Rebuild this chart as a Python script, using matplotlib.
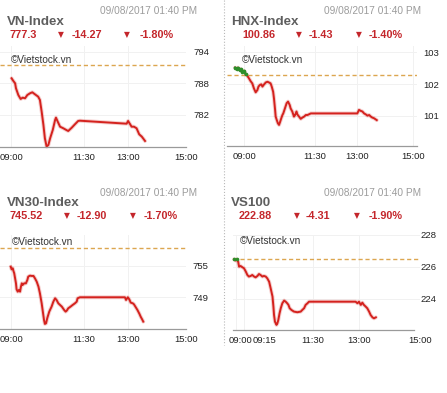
import matplotlib.pyplot as plt
import matplotlib.transforms as mtransforms
from matplotlib.lines import Line2D
import numpy as np

##########
# Data
##########
stamp = "09/08/2017 01:40 PM"

# VN-Index, time in hours
vn_time = [9.02, 9.08, 9.14, 9.17, 9.25, 9.33, 9.40, 9.48, 9.56, 9.65, 9.73, 9.82, 9.93, 9.99,
           10.05, 10.11, 10.16, 10.22, 10.28, 10.34, 10.43, 10.51, 10.54, 10.59, 10.68, 10.79,
           10.91, 10.96, 11.08, 11.19, 11.30, 11.36, 12.96, 13.01, 13.08, 13.13, 13.21, 13.30,
           13.39, 13.48, 13.59]
vn_value = [788.99, 788.48, 788.04, 787.09, 785.81, 785.05, 785.30, 785.18, 785.81, 786.13,
            786.32, 785.94, 785.49, 784.86, 782.63, 780.10, 777.56, 775.96, 776.29, 777.56,
            779.14, 781.05, 781.49, 780.86, 779.77, 779.47, 779.09, 778.95, 779.58, 780.23,
            780.86, 780.91, 780.34, 780.86, 780.23, 779.77, 779.77, 779.47, 778.32, 777.87,
            777.05]
vn_ref = 791.57
vn_head = ["777.3", "-14.27", "-1.80%"]
vn_yticks = [782, 788, 794]

# HNX-Index
hnx_time = [8.67, 8.73, 8.77, 8.83, 8.87, 8.93, 8.99, 9.05, 9.10, 9.16, 9.22, 9.28, 9.34, 9.40,
            9.46, 9.50, 9.55, 9.60, 9.64, 9.70, 9.76, 9.82, 9.87, 9.93, 9.97, 10.02, 10.05,
            10.09, 10.11, 10.15, 10.19, 10.23, 10.27, 10.31, 10.35, 10.38, 10.44, 10.50, 10.55,
            10.61, 10.64, 10.70, 10.76, 10.80, 10.85, 10.88, 10.94, 11.00, 11.06, 11.12, 11.18,
            11.24, 11.36, 13.01, 13.07, 13.13, 13.19, 13.25, 13.31, 13.37, 13.43, 13.49, 13.54,
            13.60, 13.70]
hnx_value = [102.51, 102.47, 102.51, 102.44, 102.47, 102.39, 102.41, 102.30, 102.26, 102.18,
             102.09, 102.02, 101.86, 101.74, 101.81, 101.92, 101.97, 101.99, 101.92, 101.99,
             102.05, 102.07, 102.05, 102.02, 101.92, 101.76, 101.55, 101.19, 100.98, 100.87,
             100.77, 100.72, 100.82, 100.93, 101.03, 101.08, 101.24, 101.40, 101.45, 101.34,
             101.24, 101.14, 100.98, 101.03, 101.14, 101.05, 100.98, 100.91, 100.95, 100.98,
             101.03, 101.03, 101.08, 101.08, 101.19, 101.16, 101.14, 101.08, 101.05, 101.01,
             101.03, 100.98, 100.95, 100.93, 100.87]
hnx_ref = 102.29
hnx_head = ["100.86", "-1.43", "-1.40%"]
hnx_yticks = [101, 102, 103]

# VN30-Index
vn30_time = [8.99, 9.02, 9.06, 9.08, 9.11, 9.14, 9.17, 9.19, 9.23, 9.27, 9.31, 9.34, 9.37, 9.40,
             9.45, 9.51, 9.56, 9.59, 9.65, 9.71, 9.77, 9.82, 9.88, 9.94, 9.99, 10.05, 10.09,
             10.13, 10.16, 10.20, 10.24, 10.31, 10.39, 10.45, 10.51, 10.56, 10.62, 10.68, 10.74,
             10.82, 10.87, 10.91, 10.96, 11.04, 11.11, 11.19, 11.25, 11.28, 11.36, 12.90, 12.94,
             13.00, 13.05, 13.10, 13.17, 13.21, 13.28, 13.33, 13.40, 13.44, 13.49, 13.53]
vn30_value = [754.82, 754.31, 754.50, 754.06, 753.55, 752.60, 751.65, 750.52, 750.07, 750.39,
              750.07, 751.02, 751.65, 751.34, 751.65, 751.65, 752.29, 752.92, 753.11, 753.05,
              753.05, 752.60, 751.97, 751.02, 749.76, 747.86, 746.28, 744.70, 743.94, 744.06,
              745.01, 746.28, 747.23, 748.17, 748.81, 748.49, 747.86, 747.54, 747.23, 746.59,
              746.28, 746.47, 746.91, 747.23, 747.54, 747.86, 748.17, 748.81, 749.00, 749.00,
              748.49, 749.00, 748.62, 747.99, 747.86, 747.67, 747.04, 746.59, 745.83, 745.33,
              744.82, 744.38]
vn30_ref = 758.42
vn30_head = ["745.52", "-12.90", "-1.70%"]
vn30_yticks = [749, 755]

# VS100
vs_time = [8.94, 8.99, 9.02, 9.07, 9.10, 9.15, 9.21, 9.26, 9.32, 9.37, 9.42, 9.48, 9.53, 9.59,
           9.64, 9.70, 9.75, 9.80, 9.86, 9.91, 9.97, 10.02, 10.08, 10.13, 10.19, 10.22, 10.24,
           10.27, 10.32, 10.35, 10.38, 10.42, 10.46, 10.51, 10.57, 10.62, 10.67, 10.71, 10.75,
           10.81, 10.89, 11.00, 11.11, 11.16, 11.22, 11.27, 11.33, 11.38, 11.44, 12.90, 12.96,
           13.01, 13.07, 13.12, 13.17, 13.23, 13.28, 13.34, 13.39, 13.45, 13.50, 13.56]
vs_value = [226.48, 226.40, 226.48, 226.33, 226.02, 226.06, 225.98, 225.92, 225.71, 225.50,
            225.40, 225.44, 225.50, 225.40, 225.35, 225.44, 225.56, 225.50, 225.40, 225.44,
            225.40, 225.29, 225.08, 224.67, 224.15, 223.52, 223.00, 222.58, 222.38, 222.48,
            222.69, 223.10, 223.42, 223.73, 223.90, 223.83, 223.73, 223.63, 223.42, 223.31,
            223.21, 223.17, 223.21, 223.31, 223.42, 223.63, 223.73, 223.83, 223.83, 223.83,
            223.73, 223.83, 223.63, 223.77, 223.63, 223.52, 223.42, 223.21, 223.00, 222.85,
            222.79, 222.85]
vs_ref = 226.48
vs_head = ["222.88", "-4.31", "-1.90%"]
vs_yticks = [224, 226, 228]

xtick_hours = [9, 11.5, 13, 15]
xtick_labels = ["09:00", "11:30", "13:00", "15:00"]

##########
# Figure
##########
W, H = 447, 393
fig = plt.figure(figsize=(W / 100, H / 100), dpi=100)
fig.patch.set_facecolor("white")

SANS = ["Liberation Sans", "DejaVu Sans"]
RED = "#c4262b"
LINE = "#d4221e"


def txt(x, y, s, **kw):
    kw.setdefault("family", SANS)
    fig.text(x / W, 1 - y / H, s, va="center", **kw)


def header(x0, y0, name, head, pos):
    # pos: x of value, arrow1, change, arrow2, percent
    txt(x0 + 100, y0 - 10.5, stamp, size=7.3, color="#9c9c9c")
    txt(x0 + 7, y0, name, size=9.6, weight="bold", color="#5e5e5e")
    txt(pos[0], y0 + 13, head[0], size=7.8, weight="bold", color=RED)
    txt(pos[1], y0 + 13, "\u25bc", size=5.5, color=RED, ha="center", family=["DejaVu Sans"])
    txt(pos[2], y0 + 13, head[1], size=7.8, weight="bold", color=RED)
    txt(pos[3], y0 + 13, "\u25bc", size=5.5, color=RED, ha="center", family=["DejaVu Sans"])
    txt(pos[4], y0 + 13, head[2], size=7.8, weight="bold", color=RED)


def panel(box, xlim, ylim, times, values, ref, yticks, xticks, xlabels, ypad):
    l, t, r, b = box
    ax = fig.add_axes([l / W, 1 - b / H, (r - l) / W, (b - t) / H])
    ax.set_xlim(xlim)
    ax.set_ylim(ylim)
    for s in ["top", "left", "right"]:
        ax.spines[s].set_visible(False)
    ax.spines["bottom"].set_color("#9a9a9a")
    ax.spines["bottom"].set_linewidth(0.9)
    ax.patch.set_alpha(0)
    ax.set_yticks(yticks)
    ax.set_xticks(xticks)
    ax.set_xticklabels(xlabels)
    ax.yaxis.tick_right()
    ax.tick_params(axis="y", length=0, pad=ypad, labelsize=6.8, labelcolor="#222222")
    ax.tick_params(axis="x", length=0, pad=4.5, labelsize=6.8, labelcolor="#222222")
    for lab in ax.get_xticklabels() + ax.get_yticklabels():
        lab.set_family(SANS)
    ax.grid(True, color="#f1f1f1", lw=0.7)
    ax.set_axisbelow(True)
    ax.axhline(ref, color="#dca650", lw=1.0, dashes=(3, 2), snap=True)

    t_arr = np.array(times)
    v_arr = np.array(values)
    ax.plot(t_arr, v_arr, color=LINE, lw=2.8, alpha=0.22, solid_capstyle="round", clip_on=False)
    ax.plot(t_arr, v_arr, color=LINE, lw=1.4, solid_joinstyle="round", clip_on=False)
    # stretches at or above the reference are drawn green
    up = np.where(v_arr >= ref, v_arr, np.nan)
    ax.plot(t_arr, up, color="#2e8f2a", lw=1.7, marker="o", ms=1.6, clip_on=False)
    return ax


###################
# Top-left VN-Index
###################
header(0, 22, "VN-Index", vn_head, [9, 61, 72, 127, 140])
txt(11, 60, "\u00a9Vietstock.vn", size=7.2, color="#333333")
panel((0, 46, 186.2, 147), (8.623, 15.0), (775.90, 795.14), vn_time, vn_value, vn_ref,
      vn_yticks, xtick_hours, xtick_labels, 5.0)

####################
# Top-right HNX-Index
####################
header(224, 22, "HNX-Index", hnx_head, [242, 298.5, 309, 359, 369])
txt(242, 60, "\u00a9Vietstock.vn", size=7.2, color="#333333")
panel((227, 46, 417, 146), (8.382, 15.129), (100.06, 103.19), hnx_time, hnx_value, hnx_ref,
      hnx_yticks, xtick_hours, xtick_labels, 4.3)

#######################
# Bottom-left VN30-Index
#######################
header(0, 203, "VN30-Index", vn30_head, [9, 67, 77, 133, 144])
txt(12, 242, "\u00a9Vietstock.vn", size=7.2, color="#333333")
panel((0, 234.5, 186.2, 329), (8.623, 15.0), (742.98, 760.92), vn30_time, vn30_value, vn30_ref,
      vn30_yticks, xtick_hours, xtick_labels, 4.3)

###################
# Bottom-right VS100
###################
header(224, 203, "VS100", vs_head, [239, 297, 306, 357, 369])
txt(240, 241.5, "\u00a9Vietstock.vn", size=7.2, color="#333333")
ax_vs = panel((233, 234.5, 420, 330), (8.902, 15.0), (222.06, 228.03), vs_time, vs_value, vs_ref,
              vs_yticks, [9, 9.25, 11.5, 13, 15], ["09:00", "09:15", "11:30", "13:00", "15:00"], 0.5)
ax_vs.spines["bottom"].set_bounds(8.902, 14.8)
# the first two labels are pushed apart in the original
shifts = [4, 21, 0, 0, 0]
for lab, dx in zip(ax_vs.get_xticklabels(), shifts):
    lab.set_transform(lab.get_transform() + mtransforms.ScaledTranslation(dx / 100, 0, fig.dpi_scale_trans))

# dotted divider between the columns
fig.add_artist(Line2D([224 / W, 224 / W], [1.0, 1 - 345 / H], color="#b8b8b8", lw=0.8, ls=":"))

fig.savefig("out.png", dpi=100)
